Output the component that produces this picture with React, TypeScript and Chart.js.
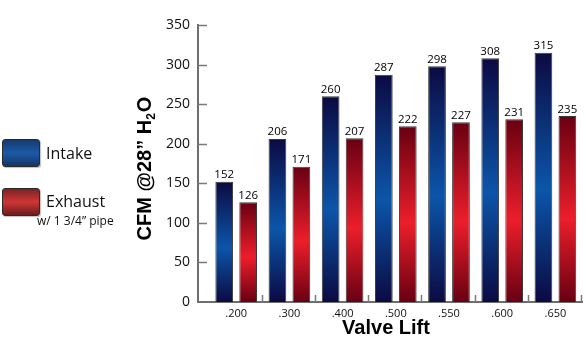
import React, { useEffect, useRef } from "react";
import { Chart, registerables } from "chart.js";

Chart.register(...registerables);

const categories = [".200", ".300", ".400", ".500", ".550", ".600", ".650"];
const intakeValues = [152, 206, 260, 287, 298, 308, 315];
const exhaustValues = [126, 171, 207, 222, 227, 231, 235];
const yTickValues = [0, 50, 100, 150, 200, 250, 300, 350];
const xTitle = "Valve Lift";
const yTitleMain = "CFM @28\u201D H";
const yTitleSub = "2";
const yTitleEnd = "O";

const INTAKE_STOPS: [number, string][] = [
  [0, "#0b0a42"],
  [0.55, "#0c55a9"],
  [1, "#0b0a42"],
];
const EXHAUST_STOPS: [number, string][] = [
  [0, "#680012"],
  [0.55, "#ec1e2b"],
  [1, "#680012"],
];

function barGradient(stops: [number, string][], fallback: string) {
  return (ctx: any) => {
    const chart = ctx.chart;
    if (ctx.type !== "data" || !chart.chartArea || !chart.scales.y) return fallback;
    const y = chart.scales.y;
    const v = ctx.parsed ? ctx.parsed.y : ctx.raw;
    const top = y.getPixelForValue(v);
    const bottom = y.getPixelForValue(0);
    if (!isFinite(top) || !isFinite(bottom) || top === bottom) return fallback;
    const g = chart.ctx.createLinearGradient(0, top, 0, bottom);
    stops.forEach(([o, c]) => g.addColorStop(o, c));
    return g;
  };
}

const EXTRA = 0.218; // extra left space on the category axis, in category units

const decorPlugin = {
  id: "decor",
  afterDatasetsDraw(chart: any) {
    const { ctx } = chart;
    // value labels
    ctx.save();
    ctx.fillStyle = "#000";
    ctx.font = '11.5px "Open Sans", sans-serif';
    ctx.textAlign = "center";
    ctx.textBaseline = "alphabetic";
    chart.data.datasets.forEach((ds: any, i: number) => {
      const meta = chart.getDatasetMeta(i);
      meta.data.forEach((el: any, j: number) => {
        ctx.fillText(String(ds.data[j]), el.x, el.y - 3.5);
      });
    });
    ctx.restore();
  },
  afterDraw(chart: any) {
    const { ctx, chartArea } = chart;
    const x = chart.scales.x;
    const y = chart.scales.y;
    ctx.save();
    ctx.strokeStyle = "#7a7a7a";
    ctx.lineWidth = 1.5;
    // inner y ticks
    yTickValues.forEach((v) => {
      if (v === 0) return;
      const py = Math.round(y.getPixelForValue(v)) + 0.5;
      ctx.beginPath();
      ctx.moveTo(chartArea.left, py);
      ctx.lineTo(chartArea.left + 9, py);
      ctx.stroke();
    });
    // inner x ticks at category boundaries
    const w = x.getPixelForValue(1) - x.getPixelForValue(0);
    categories.forEach((_, i) => {
      const px = Math.round(x.getPixelForValue(i) + w / 2) - 0.5;
      ctx.beginPath();
      ctx.moveTo(px, chartArea.bottom);
      ctx.lineTo(px, chartArea.bottom - 7);
      ctx.stroke();
    });
    // titles
    ctx.fillStyle = "#000";
    ctx.font = 'bold 20px "Liberation Sans", Arial, sans-serif';
    ctx.textAlign = "center";
    ctx.textBaseline = "middle";
    ctx.fillText(xTitle, (chartArea.left + chartArea.right) / 2 - 4, 328);

    ctx.translate(144, (chartArea.top + chartArea.bottom) / 2 + 5);
    ctx.rotate(-Math.PI / 2);
    const big = 'bold 20px "Liberation Sans", Arial, sans-serif';
    const small = 'bold 12px "Liberation Sans", Arial, sans-serif';
    ctx.font = big;
    const w1 = ctx.measureText(yTitleMain).width;
    const w3 = ctx.measureText(yTitleEnd).width;
    ctx.font = small;
    const w2 = ctx.measureText(yTitleSub).width;
    const total = w1 + w2 + w3 + 1;
    let cx = -total / 2;
    ctx.textAlign = "left";
    ctx.textBaseline = "alphabetic";
    ctx.font = big;
    ctx.fillText(yTitleMain, cx, 7);
    cx += w1;
    ctx.font = small;
    ctx.fillText(yTitleSub, cx, 11);
    cx += w2 + 1;
    ctx.font = big;
    ctx.fillText(yTitleEnd, cx, 7);
    ctx.restore();
  },
};

function Legend() {
  const box = (bg: string): React.CSSProperties => ({
    position: "absolute",
    left: 2,
    width: 36,
    height: 26,
    border: "1px solid #2a2a2a",
    borderRadius: 3,
    background: bg,
    boxShadow: "1px 1px 1px rgba(0,0,0,0.25)",
  });
  const text: React.CSSProperties = {
    position: "absolute",
    fontFamily: '"Open Sans", sans-serif',
    fontSize: 16,
    lineHeight: "20px",
    color: "#111",
    whiteSpace: "nowrap",
  };
  return (
    <>
      <div
        style={{
          ...box("linear-gradient(to bottom, #163a6e 0%, #1c5aa6 50%, #153564 100%)"),
          top: 139,
        }}
      />
      <div style={{ ...text, left: 46, top: 143 }}>Intake</div>
      <div
        style={{
          ...box("linear-gradient(to bottom, #7a2424 0%, #cf3535 50%, #6a1d1d 100%)"),
          top: 188,
        }}
      />
      <div style={{ ...text, left: 46, top: 191 }}>Exhaust</div>
      <div style={{ ...text, left: 37, top: 213, fontSize: 12, lineHeight: "16px" }}>
        w/ 1 3/4{"\u201D"} pipe
      </div>
    </>
  );
}

export default function App() {
  const canvasRef = useRef<HTMLCanvasElement | null>(null);

  useEffect(() => {
    if (!canvasRef.current) return;
    const chart = new Chart(canvasRef.current, {
      type: "bar",
      data: {
        labels: categories,
        datasets: [
          {
            label: "Intake",
            data: intakeValues,
            backgroundColor: barGradient(INTAKE_STOPS, "#0c3f8a"),
            borderColor: "#383838",
            borderWidth: 1,
            categoryPercentage: 0.9,
            barPercentage: 0.74,
          },
          {
            label: "Exhaust",
            data: exhaustValues,
            backgroundColor: barGradient(EXHAUST_STOPS, "#b5121f"),
            borderColor: "#383838",
            borderWidth: 1,
            categoryPercentage: 0.9,
            barPercentage: 0.74,
          },
        ],
      },
      options: {
        responsive: false,
        maintainAspectRatio: false,
        devicePixelRatio: 1,
        animation: false,
        layout: { padding: { left: 0, top: 25, right: 4, bottom: 0 } },
        plugins: {
          legend: { display: false },
          tooltip: { enabled: false },
          title: { display: false },
        },
        scales: {
          x: {
            type: "category",
            offset: true,
            grid: { display: false, drawTicks: false },
            border: { display: true, color: "#6e6e6e", width: 2 },
            ticks: {
              color: "#111",
              font: { family: '"Open Sans", sans-serif', size: 11 },
              padding: 5,
              maxRotation: 0,
              autoSkip: false,
            },
            afterBuildTicks: (scale: any) => {
              scale._startValue = -0.5 - EXTRA;
              scale._valueRange = categories.length + EXTRA;
            },
            afterFit: (scale: any) => {
              scale.height = 42;
            },
          },
          y: {
            min: 0,
            max: 350,
            grid: { display: false, drawTicks: false },
            border: { display: true, color: "#6e6e6e", width: 2 },
            ticks: {
              stepSize: 50,
              color: "#111",
              font: { family: '"Open Sans", sans-serif', size: 14 },
              padding: 8,
            },
            afterFit: (scale: any) => {
              scale.width = 198;
            },
          },
        },
      },
      plugins: [decorPlugin],
    });
    return () => chart.destroy();
  }, []);

  return (
    <div style={{ position: "absolute", left: 0, top: 0, width: 586, height: 344, background: "#fff" }}>
      <canvas ref={canvasRef} width={586} height={344} style={{ display: "block" }} />
      <Legend />
    </div>
  );
}
